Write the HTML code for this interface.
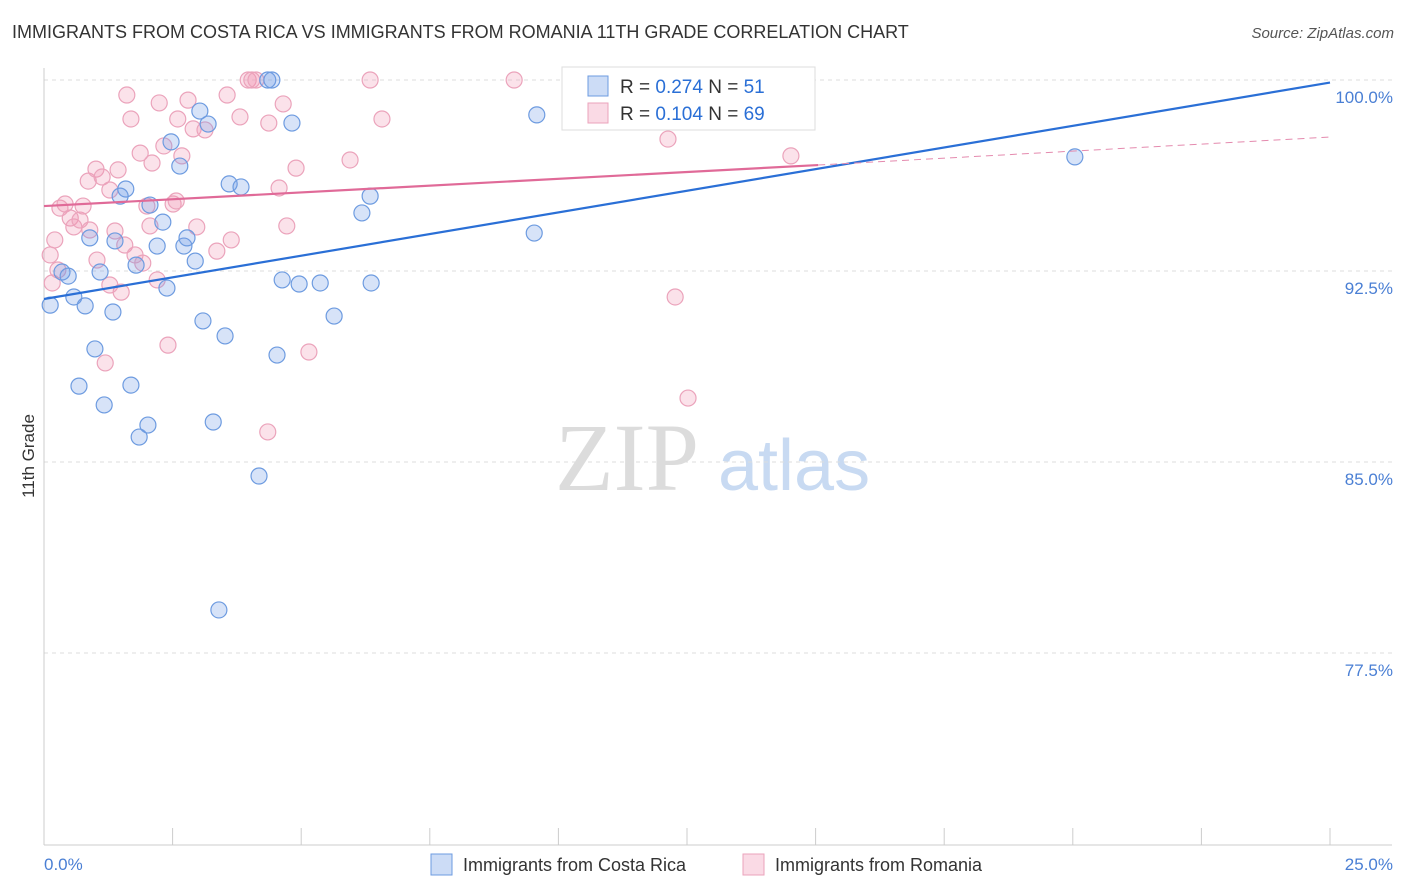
<!DOCTYPE html>
<html><head><meta charset="utf-8">
<style>
body{margin:0;background:#fff;font-family:"Liberation Sans",sans-serif;}
#wrap{position:relative;width:1406px;height:892px;overflow:hidden;}
.title{position:absolute;left:12px;top:22px;font-size:18px;color:#333;}
.source{position:absolute;right:12px;top:25px;font-size:15px;color:#555;font-style:italic;}
</style></head><body>
<div id="wrap">
<div class="title">IMMIGRANTS FROM COSTA RICA VS IMMIGRANTS FROM ROMANIA 11TH GRADE CORRELATION CHART</div>
<div class="source">Source: ZipAtlas.com</div>
<svg id="svg" width="1406" height="892" style="position:absolute;left:0;top:0"></svg>
</div>
<script>
const blueX=[0.12,0.35,0.47,0.89,1.09,0.58,0.80,1.34,0.99,0.68,1.17,1.69,1.85,2.02,1.38,1.59,1.48,1.79,2.06,2.20,2.31,2.39,2.72,2.78,2.94,2.64,2.47,3.03,3.19,3.09,3.52,3.29,3.40,3.60,3.83,4.18,4.35,4.43,4.63,4.82,4.53,4.96,5.37,5.64,6.18,6.34,6.36,9.53,9.58,20.04];
const blueY=[91.16,92.46,92.30,93.80,92.46,91.48,91.13,90.89,89.44,87.98,87.24,88.02,85.98,86.45,93.68,95.72,95.44,92.73,95.09,93.48,94.42,91.83,93.48,93.80,92.89,96.62,97.57,98.78,98.27,90.54,89.95,86.57,79.19,95.92,95.80,84.45,100,100,92.15,98.31,89.20,91.99,92.03,90.73,94.78,95.44,92.03,93.99,98.63,96.98];
const pinkX=[0.12,0.21,0.27,0.16,0.31,0.41,0.51,0.58,0.70,0.76,0.86,1.01,1.13,0.89,1.03,1.19,1.28,1.38,1.44,1.50,1.57,1.28,1.61,1.69,1.77,1.87,1.92,2.00,2.10,2.06,2.20,2.24,2.33,2.41,2.51,2.57,2.60,2.68,2.80,2.90,2.97,3.13,3.36,3.56,3.64,3.81,3.97,4.04,4.12,4.37,4.35,4.57,4.65,4.72,4.90,5.15,5.95,6.34,6.57,9.14,12.13,12.27,12.52,14.52];
const pinkY=[93.13,93.72,92.54,92.03,94.97,95.13,94.58,94.23,94.50,95.05,96.03,96.50,96.19,94.11,92.93,88.89,95.68,94.07,96.47,91.67,93.52,91.95,99.41,98.47,93.13,97.13,92.81,95.05,96.74,94.27,92.15,99.10,97.41,89.59,95.13,95.25,98.47,97.02,99.21,98.08,94.23,98.04,93.28,99.41,93.72,98.55,100,100,100,98.31,86.18,95.76,99.06,94.27,96.54,89.32,96.86,100,98.47,100,97.68,91.48,87.51,97.02];
const yTicks=[100,92.5,85,77.5];
const yTickLabels=["100.0%","92.5%","85.0%","77.5%"];
const xTickLabels=["0.0%","25.0%"];
const blueTrend=[91.4,99.9];
const pinkTrend=[95.05,96.66,97.76];
const pinkTrendEnd=15.05;

const X0=44,X1=1330,YTOP=80,YPX=191/7.5;
const sx=v=>X0+(v/25)*(X1-X0);
const sy=v=>YTOP+(100-v)*YPX;
const svg=document.getElementById('svg');
const NS='http://www.w3.org/2000/svg';
function mk(t,a,p){const e=document.createElementNS(NS,t);for(const k in a)e.setAttribute(k,a[k]);(p||svg).appendChild(e);return e;}

// watermark
let wm=mk('text',{x:555,y:490,'font-size':96,'font-family':'Liberation Serif, serif',fill:'#dcdcdc'});wm.textContent='ZIP';


let wm2=mk('text',{x:718,y:490,'font-size':72,'font-family':'Liberation Sans, sans-serif',fill:'#c8daf2'});wm2.textContent='atlas';



// grid + y labels
yTicks.forEach((v,i)=>{
  const g=mk('line',{x1:X0,x2:1392,y1:sy(v),y2:sy(v),stroke:'#ddd','stroke-dasharray':'4,4'});
  
  
  const t=mk('text',{x:1393,y:sy(v)+23,'text-anchor':'end','font-size':17,fill:'#4a7fd4'});t.textContent=yTickLabels[i];
  
  
});
// axes
let ax=mk('line',{x1:X0,x2:1392,y1:845,y2:845,stroke:'#ccc'});


let ay=mk('line',{x1:X0,x2:X0,y1:68,y2:845,stroke:'#ccc'});


for(let i=0;i<=10;i++){
  const tk=mk('line',{x1:sx(i*2.5),x2:sx(i*2.5),y1:828,y2:845,stroke:'#ccc'});
  
  
}
let xl0=mk('text',{x:44,y:870,'font-size':17,fill:'#4a7fd4'});xl0.textContent=xTickLabels[0];


let xl1=mk('text',{x:1393,y:870,'text-anchor':'end','font-size':17,fill:'#4a7fd4'});xl1.textContent=xTickLabels[1];


let yt=mk('text',{x:34,y:456,'font-size':17,fill:'#333',transform:'rotate(-90 34 456)','text-anchor':'middle'});yt.textContent='11th Grade';



// points
function pts(xs,ys,fill,stroke,name){
  xs.forEach((x,i)=>{
    const c=mk('circle',{cx:sx(x),cy:sy(ys[i]),r:8,fill:fill,stroke:stroke,'stroke-width':1.2});
    
    
  });
}
pts(pinkX,pinkY,'rgba(240,150,180,0.28)','#eba3bb','point-romania');
pts(blueX,blueY,'rgba(110,155,230,0.28)','#6d9be0','point-costa-rica');

// trend lines
let bl=mk('line',{x1:sx(0),y1:sy(blueTrend[0]),x2:sx(25),y2:sy(blueTrend[1]),stroke:'#2a6fd6','stroke-width':2.2});


let pl=mk('line',{x1:sx(0),y1:sy(pinkTrend[0]),x2:sx(pinkTrendEnd),y2:sy(pinkTrend[1]),stroke:'#e06a98','stroke-width':2.2});


let pd=mk('line',{x1:sx(pinkTrendEnd),y1:sy(pinkTrend[1]),x2:sx(25),y2:sy(pinkTrend[2]),stroke:'#e48aae','stroke-width':1,'stroke-dasharray':'7,5'});



// legend
const lg=mk('g',{});


mk('rect',{x:562,y:67,width:253,height:63,fill:'#fff',stroke:'#ddd'},lg);
[[0,'#6d9be0','rgba(110,155,230,0.35)','0.274','51'],[1,'#eba3bb','rgba(240,150,180,0.35)','0.104','69']].forEach(r=>{
  const y=86+r[0]*27;
  mk('rect',{x:588,y:y-10,width:20,height:20,fill:r[2],stroke:r[1]},lg);
  const t=mk('text',{x:620,y:y+7,'font-size':19,fill:'#333'},lg);
  t.innerHTML='R = <tspan fill="#2a6fd6">'+r[3]+'</tspan>   N = <tspan fill="#2a6fd6">'+r[4]+'</tspan>';
  t.setAttribute('xml:space','preserve');
  
  
});
// bottom legend
[[431,'#6d9be0','rgba(110,155,230,0.35)','Immigrants from Costa Rica'],[743,'#eba3bb','rgba(240,150,180,0.35)','Immigrants from Romania']].forEach(r=>{
  const g=mk('g',{});
  
  
  mk('rect',{x:r[0],y:854,width:21,height:21,fill:r[2],stroke:r[1]},g);
  const t=mk('text',{x:r[0]+32,y:871,'font-size':18,fill:'#333'},g);t.textContent=r[3];
});
</script>
</body></html>
